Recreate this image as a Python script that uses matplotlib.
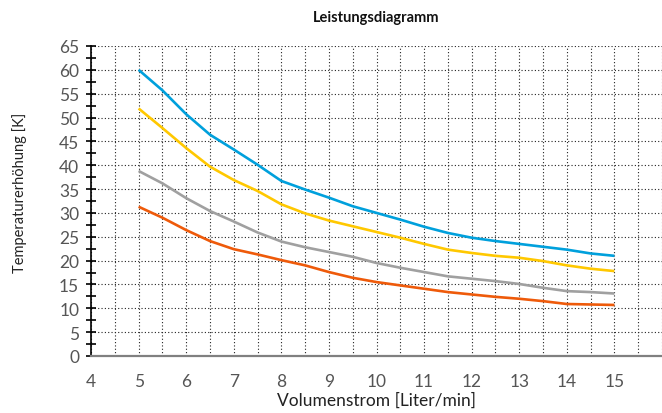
import matplotlib
matplotlib.use("Agg")
import matplotlib.pyplot as plt
from matplotlib.ticker import MultipleLocator

flow = [5, 5.5, 6, 6.5, 7, 7.5, 8, 8.5, 9, 9.5, 10, 10.5, 11, 11.5, 12, 12.5, 13, 13.5, 14, 14.5, 15]
blue = [60, 55.7, 50.7, 46.4, 43.3, 40.1, 36.7, 34.9, 33.2, 31.4, 30.0, 28.6, 27.1, 25.8, 24.8, 24.1, 23.5, 22.9, 22.3, 21.5, 21.0]
yellow = [51.9, 47.8, 43.6, 39.7, 36.9, 34.6, 31.8, 29.9, 28.4, 27.2, 26.0, 24.8, 23.5, 22.3, 21.6, 21.0, 20.6, 19.9, 19.0, 18.3, 17.8]
gray = [38.8, 36.2, 33.1, 30.4, 28.2, 25.9, 24.0, 22.8, 21.8, 20.8, 19.5, 18.5, 17.6, 16.7, 16.2, 15.7, 15.1, 14.3, 13.6, 13.4, 13.1]
orange = [31.3, 29.0, 26.4, 24.1, 22.4, 21.3, 20.1, 19.0, 17.6, 16.4, 15.5, 14.8, 14.1, 13.4, 12.9, 12.4, 12.0, 11.5, 10.9, 10.8, 10.7]

x_ticks = [4, 5, 6, 7, 8, 9, 10, 11, 12, 13, 14, 15]
y_ticks = list(range(0, 70, 5))

plt.rcParams['font.family'] = ['Lato', 'DejaVu Sans']

fig = plt.figure(figsize=(6.62, 4.14), dpi=100)
ax = fig.add_axes([0.1375, 0.1377, 0.8625, 0.7488])

for ys, c in [(blue, '#00A0DC'), (yellow, '#FFC800'), (gray, '#A0A0A0'), (orange, '#EE5A0A')]:
    ax.plot(flow, ys, color=c, lw=1.9, solid_capstyle='butt', zorder=3)

ax.set_xlim(4, 16)
ax.set_ylim(0, 65)
ax.set_xticks(x_ticks)
ax.set_yticks(y_ticks)
ax.xaxis.set_minor_locator(MultipleLocator(0.5))
ax.yaxis.set_minor_locator(MultipleLocator(2.5))

ax.grid(True, which='major', axis='y', color='#222222', linestyle=(0, (1, 2)), lw=0.8)
ax.grid(True, which='both', axis='x', color='#222222', linestyle=(0, (1, 2)), lw=0.8)

for s in ['top', 'right']:
    ax.spines[s].set_visible(False)
ax.spines['left'].set_color('black')
ax.spines['left'].set_linewidth(1.2)
ax.spines['bottom'].set_color('#808080')
ax.spines['bottom'].set_linewidth(1.6)

ax.tick_params(axis='y', which='both', direction='inout', length=7, width=1.2, color='black',
               labelsize=12.5, labelcolor='#555555', pad=5)
ax.tick_params(axis='x', which='both', length=0, labelsize=12.5, labelcolor='#555555', pad=12)

ax.set_xlabel('Volumenstrom [Liter/min]', fontsize=12.5, color='#222222')
ax.set_ylabel('Temperaturerhöhung [K]', fontsize=10.5, color='#222222')
ax.xaxis.set_label_coords(0.5, -0.115)
ax.yaxis.set_label_coords(-0.112, 0.53)
ax.set_title('Leistungsdiagramm', fontsize=10.5, fontweight='bold', color='#111111', pad=18)

fig.savefig('out.png', dpi=100)
